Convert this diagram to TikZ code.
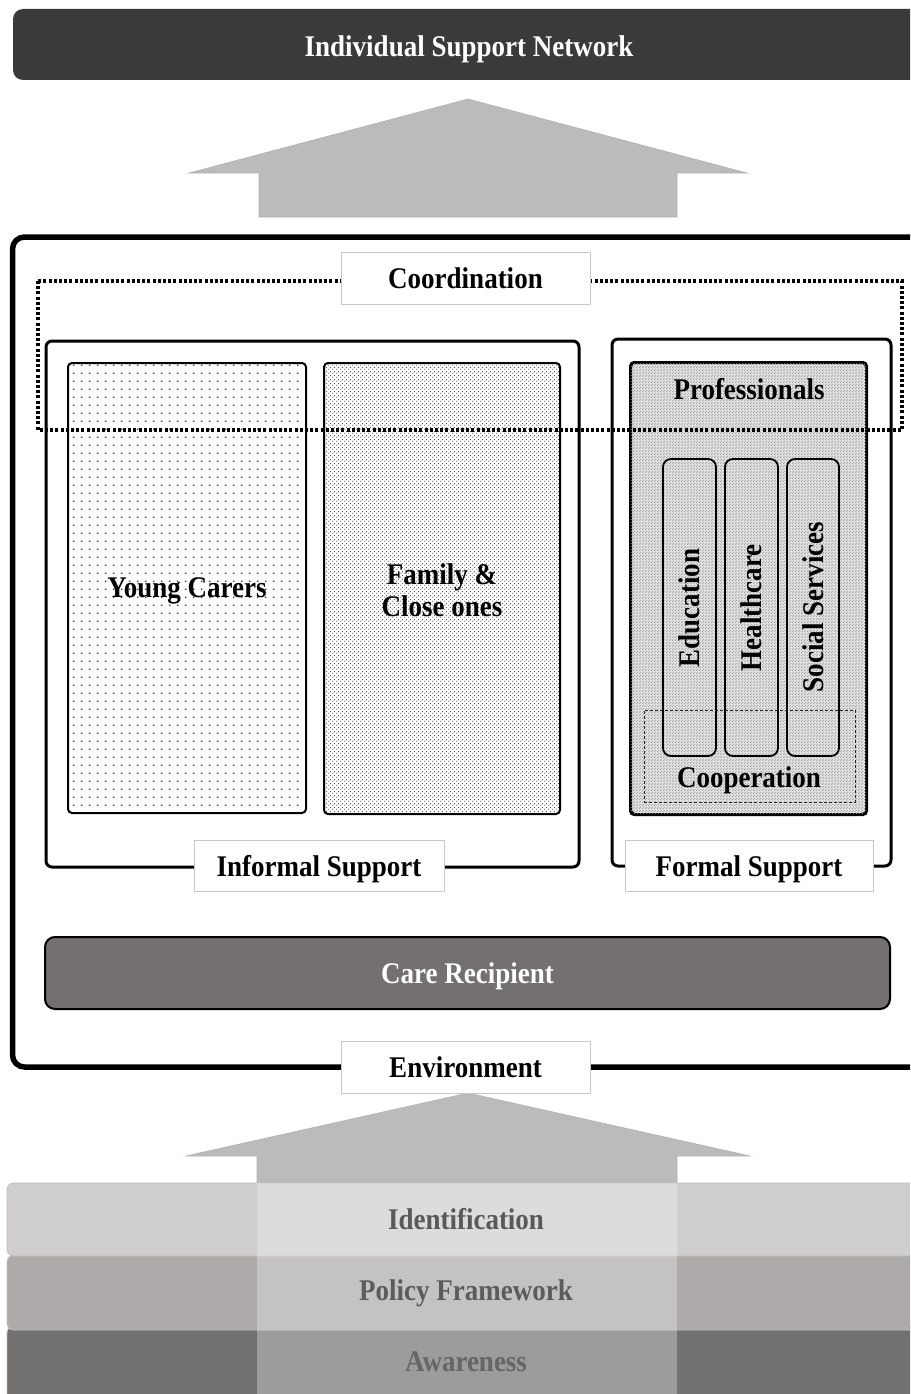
\documentclass[tikz,border=0pt]{standalone}
\usepackage{fontspec}
\newfontfamily\lbl{Liberation Serif}[FakeStretch=0.9]
\usetikzlibrary{patterns}

\definecolor{barcol}{HTML}{3B3A39}
\definecolor{arrowcol}{HTML}{BBBBBB}
\definecolor{tagline}{HTML}{C8C8C8}
\definecolor{carecol}{HTML}{747070}
\definecolor{idcol}{HTML}{CFCDCE}
\definecolor{polcol}{HTML}{ADAAA9}
\definecolor{awcol}{HTML}{737070}
\definecolor{layerline}{HTML}{BDBDBD}

% dot screens for the three groups
\pgfdeclarepatternformonly{sparsedots}{\pgfqpoint{0pt}{0pt}}{\pgfqpoint{7.8pt}{7.8pt}}{\pgfqpoint{7.8pt}{7.8pt}}{%
  \pgfpathcircle{\pgfqpoint{3.9pt}{3.9pt}}{0.9pt}\pgfusepath{fill}}
\pgfdeclarepatternformonly{densedots}{\pgfqpoint{0pt}{0pt}}{\pgfqpoint{4pt}{4pt}}{\pgfqpoint{4pt}{4pt}}{%
  \pgfpathcircle{\pgfqpoint{1pt}{1pt}}{0.75pt}\pgfpathcircle{\pgfqpoint{3pt}{3pt}}{0.75pt}\pgfusepath{fill}}
\pgfdeclarepatternformonly{finedots}{\pgfqpoint{0pt}{0pt}}{\pgfqpoint{3pt}{3pt}}{\pgfqpoint{3pt}{3pt}}{%
  \pgfpathcircle{\pgfqpoint{0.75pt}{0.75pt}}{0.68pt}\pgfpathcircle{\pgfqpoint{2.25pt}{2.25pt}}{0.68pt}\pgfusepath{fill}}

\begin{document}
\begin{tikzpicture}[x=1pt,y=-1pt,
  txt/.style={font=\lbl\bfseries\fontsize{30}{32}\selectfont, inner sep=0pt, align=center, text depth=0pt},
  tag/.style={draw=tagline, fill=white, line width=0.8pt, minimum width=249pt, minimum height=52pt, txt},
  group/.style={draw=black, line width=3pt, rounded corners=6pt, inner sep=0pt},
  cell/.style={draw=black, line width=2pt, rounded corners=4pt, inner sep=0pt},
  column/.style={draw=black, line width=1.8pt, rounded corners=8pt, inner sep=0pt, minimum height=297pt},
  layer/.style={draw=layerline, line width=0.8pt, rounded corners=7pt},
  arrowshape/.style={fill=arrowcol, draw=arrowcol!95!black, line width=0.6pt}
]
\useasboundingbox (0,0) rectangle (910,1394);
\clip (0,0) rectangle (910,1394);

% title bar
\node[fill=barcol, rounded corners=10pt, minimum width=917pt, minimum height=71pt, inner sep=0pt]
  (isn) at (471.5,44.5) {};
\node[txt, text=white] (isntext) at (469,46) {Individual Support Network};

% upper arrow
\path[arrowshape] (468,99) -- (747,173) -- (677,173) -- (677,217) -- (259,217) -- (259,173) -- (189,173) -- cycle;

% environment frame
\draw[line width=5.5pt, rounded corners=12pt] (12.5,237) rectangle (940,1067);

% informal and formal support groups
\node[group, minimum width=533pt, minimum height=526pt] (informal) at (312.5,604) {};
\node[group, minimum width=279pt, minimum height=527pt] (formal) at (751.5,602.5) {};

% informal members
\node[cell, pattern=sparsedots, pattern color=black!80, minimum width=238pt, minimum height=450pt, txt]
  (young) at (187,588) {Young Carers};
\node[cell, pattern=densedots, pattern color=black!70, minimum width=236pt, minimum height=451pt]
  (family) at (442,588.5) {};
\node[txt] (familytext) at (442,590) {Family \&\\Close ones};

% professionals
\node[cell, fill=black!12, minimum width=235pt, minimum height=451pt] (prof) at (748.5,588.5) {};
\fill[pattern=finedots, pattern color=black!38, rounded corners=4pt] (prof.north west) rectangle (prof.south east);
\draw[line width=2pt, rounded corners=4pt] (prof.north west) rectangle (prof.south east);
\node[txt] (proftext) at (749,389) {Professionals};

\node[column, minimum width=53pt] (edu) at (689.5,607.5) {};
\node[column, minimum width=53pt] (health) at (751.5,607.5) {};
\node[column, minimum width=52pt] (social) at (813,607.5) {};
\node[txt, rotate=90] (edutext) at (689,608) {Education};
\node[txt, rotate=90] (healthtext) at (751,608) {Healthcare};
\node[txt, rotate=90] (socialtext) at (813,607) {Social Services};

\node[draw=black!85, line width=0.9pt, dash pattern=on 3pt off 2pt, minimum width=211pt, minimum height=92pt, inner sep=0pt]
  (coop) at (749.5,756) {};
\node[txt] (cooptext) at (749,777) {Cooperation};

% coordination band
\draw[line width=3.2pt, dash pattern=on 3pt off 2.2pt] (38,281) rectangle (902,430);
\node[tag] (coord) at (465.5,278) {Coordination};

% group labels
\node[tag, minimum width=250pt, minimum height=51pt] (inftag) at (319,866) {Informal Support};
\node[tag, minimum width=248pt, minimum height=51pt] (formtag) at (749,866) {Formal Support};

% care recipient
\node[txt, fill=carecol, draw=black, line width=2pt, rounded corners=10pt, text=white,
  minimum width=845pt, minimum height=72pt] (care) at (467.5,973) {Care Recipient};

% lower arrow and foundation layers
\path[arrowshape] (468,1093) -- (750,1156) -- (677,1156) -- (677,1400) -- (257,1400) -- (257,1156) -- (186,1156) -- cycle;
\path[layer, fill=awcol] (7,1326) rectangle (940,1410);
\path[layer, fill=polcol] (7,1255) rectangle (940,1330);
\path[layer, fill=idcol] (7,1183) rectangle (940,1256);
\fill[white, opacity=0.3] (257,1183) rectangle (677,1400);

\node[tag] (env) at (465.5,1067) {Environment};

\node[txt, text=black!65] (ident) at (466,1219) {Identification};
\node[txt, text=black!64] (policy) at (466,1290) {Policy Framework};
\node[txt, text=black!60] (aware) at (466,1362) {Awareness};
\end{tikzpicture}
\end{document}
